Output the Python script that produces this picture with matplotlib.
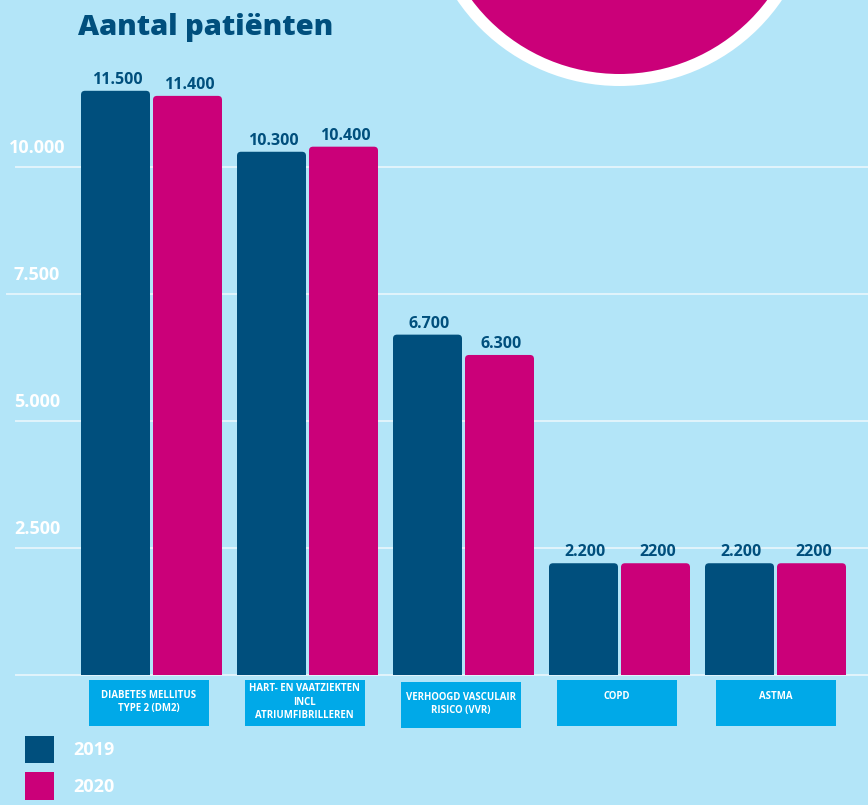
import numpy as np
import matplotlib
matplotlib.use("Agg")
import matplotlib.pyplot as plt
from matplotlib.patches import FancyBboxPatch, Rectangle, Circle, Patch

categories = ["DIABETES MELLITUS\nTYPE 2 (DM2)",
              "HART- EN VAATZIEKTEN\nINCL\nATRIUMFIBRILLEREN",
              "VERHOOGD VASCULAIR\nRISICO (VVR)",
              "COPD",
              "ASTMA"]
vals_2019 = [11500, 10300, 6700, 2200, 2200]
vals_2020 = [11400, 10400, 6300, 2200, 2200]
labels_2019 = ["11.500", "10.300", "6.700", "2.200", "2.200"]
labels_2020 = ["11.400", "10.400", "6.300", "2200", "2200"]
yticks = [0, 2500, 5000, 7500, 10000]
ytick_labels = ["", "2.500", "5.000", "7.500", "10.000"]
series = ["2019", "2020"]

bg = "#b3e5f8"
dark = "#004f7d"
pink = "#cb0079"
boxblue = "#00a9e8"
gridc = "#e2f4fc"
font = ["Open Sans", "DejaVu Sans"]

W, H = 868, 805
fig = plt.figure(figsize=(W / 100, H / 100), dpi=100, facecolor=bg)
ax = fig.add_axes([0, 0, 1, 1])
ax.set_facecolor(bg)
ax.axis("off")

# pixel layout: group spacing 156px, baseline at 675px from top
px_x = 156.0
px_y = 127.0 / 2500
ax.set_xlim(-151.5 / px_x, (W - 151.5) / px_x)
ax.set_ylim(-(H - 675) / px_y, 675 / px_y)

x = np.arange(len(categories))
bw = 69 / px_x
off = 36 / px_x

for t in yticks:
    start = 7 if t == 7500 else 16
    ax.axhline(t, xmin=start / W, xmax=1, color=gridc, lw=1.4, zorder=1)
for t, lab in zip(yticks, ytick_labels):
    if lab:
        ax.annotate(lab, xy=(37 / W, t), xycoords=("axes fraction", "data"),
                    xytext=(0, 14), textcoords="offset points", ha="center", va="center",
                    color="white", fontsize=13, fontweight="bold", family=font)

clip = Rectangle((-5, 0), 20, 20000, transform=ax.transData)
rad_x = 4 / px_x
aspect = (4 / px_y) / rad_x

def rounded_bars(xs, vals, color):
    bars = ax.bar(xs, vals, width=bw, color=color, zorder=2)
    for b in bars:
        bx, by, w, h = b.get_x(), b.get_y(), b.get_width(), b.get_height()
        b.set_visible(False)
        p = FancyBboxPatch((bx, by - 300), w, h + 300,
                           boxstyle="round,pad=0,rounding_size=%f" % rad_x,
                           mutation_aspect=aspect, fc=color, ec="none", zorder=2)
        ax.add_patch(p)
        p.set_clip_path(clip)
    return bars

rounded_bars(x - off, vals_2019, dark)
rounded_bars(x + off, vals_2020, pink)

for xs, vals, labs in [(x - off, vals_2019, labels_2019), (x + off, vals_2020, labels_2020)]:
    for xi, v, lab in zip(xs, vals, labs):
        ax.annotate(lab, xy=(xi + 2 / px_x, v), xytext=(0, 5), textcoords="offset points",
                    ha="center", va="baseline", color=dark, fontsize=11.5,
                    fontweight="bold", family=font)

# category boxes
box_w = 120 / px_x
for i, cat in enumerate(categories):
    top = -5 / px_y if i != 2 else -7 / px_y
    bh = 46 / px_y
    cx = x[i] - (3 / px_x if i < 4 else 0)
    ax.add_patch(Rectangle((cx - box_w / 2, top - bh), box_w, bh, fc=boxblue, ec="none", zorder=2))
    nlines = cat.count("\n") + 1
    ty = top - (22 if nlines > 1 else 16) / px_y
    ax.text(cx, ty, cat, ha="center", va="center", color="white", fontsize=6.9,
            fontweight="bold", family=font, linespacing=1.35, zorder=3)

# decorative circle at top
fig.patches.append(Circle((6.195, 9.155), 1.965, transform=fig.dpi_scale_trans,
                          fc="white", ec="none", zorder=0))
fig.patches.append(Circle((6.195, 9.155), 1.845, transform=fig.dpi_scale_trans,
                          fc=pink, ec="none", zorder=0))

fig.text(78 / W, 1 - 35 / H, "Aantal patiënten", ha="left", va="baseline",
         color=dark, fontsize=21, fontweight="heavy", family=font)

handles = [Patch(fc=dark, ec="none"), Patch(fc=pink, ec="none")]
leg = ax.legend(handles, series, loc="upper left", bbox_to_anchor=(25 / W, 1 - 736 / H),
                bbox_transform=fig.transFigure, frameon=False, borderpad=0, borderaxespad=0,
                handlelength=1.6, handleheight=1.95, handletextpad=1.05, labelspacing=0.5,
                prop={"family": font, "weight": "bold", "size": 13})
for t in leg.get_texts():
    t.set_color("white")

fig.savefig("out.png", dpi=100, facecolor=bg)
